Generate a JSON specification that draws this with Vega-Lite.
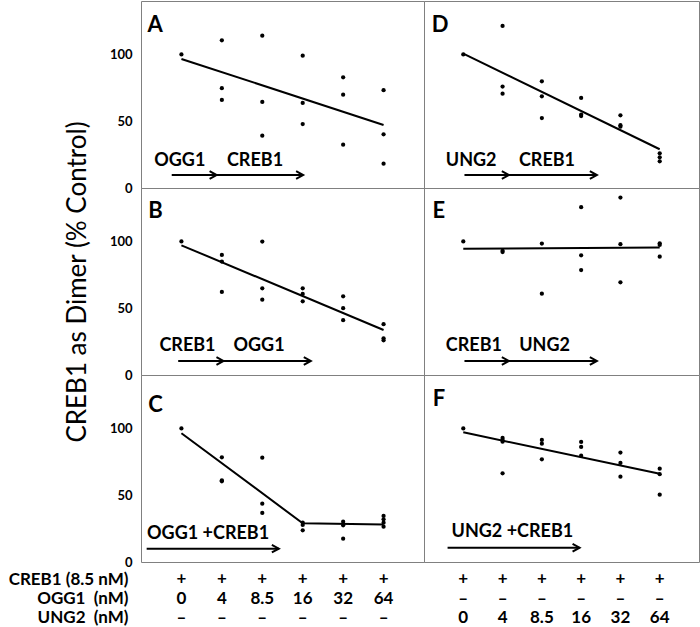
{
  "$schema": "https://vega.github.io/schema/vega-lite/v6.json",
  "padding": {"left": 8, "top": 0, "right": 0, "bottom": 0},
  "config": {"view": {"stroke": "#808080", "strokeWidth": 1}, "font": "Lato"},
  "columns": 2,
  "spacing": 0,
  "bounds": "flush",
  "datasets": {
    "pts": [
      {"p":"A","x":1,"y":100},{"p":"A","x":2,"y":110.6},{"p":"A","x":2,"y":74.7},{"p":"A","x":2,"y":65.9},{"p":"A","x":3,"y":114},{"p":"A","x":3,"y":64.4},{"p":"A","x":3,"y":39.2},{"p":"A","x":4,"y":99.1},{"p":"A","x":4,"y":63.7},{"p":"A","x":4,"y":47.9},{"p":"A","x":5,"y":82.9},{"p":"A","x":5,"y":69.9},{"p":"A","x":5,"y":32.4},{"p":"A","x":6,"y":73.2},{"p":"A","x":6,"y":40.2},{"p":"A","x":6,"y":18.2},
      {"p":"B","x":1,"y":100},{"p":"B","x":2,"y":89.9},{"p":"B","x":2,"y":84.9},{"p":"B","x":2,"y":62.2},{"p":"B","x":3,"y":99.9},{"p":"B","x":3,"y":64.9},{"p":"B","x":3,"y":56.4},{"p":"B","x":4,"y":64.9},{"p":"B","x":4,"y":60.7},{"p":"B","x":4,"y":55.2},{"p":"B","x":5,"y":58.9},{"p":"B","x":5,"y":50},{"p":"B","x":5,"y":41},{"p":"B","x":6,"y":38},{"p":"B","x":6,"y":27.5},{"p":"B","x":6,"y":26},
      {"p":"C","x":1,"y":100},{"p":"C","x":2,"y":78.4},{"p":"C","x":2,"y":61.2},{"p":"C","x":2,"y":60.4},{"p":"C","x":3,"y":78.1},{"p":"C","x":3,"y":43.7},{"p":"C","x":3,"y":36.7},{"p":"C","x":4,"y":29.4},{"p":"C","x":4,"y":27.7},{"p":"C","x":4,"y":23.7},{"p":"C","x":5,"y":30.2},{"p":"C","x":5,"y":27.5},{"p":"C","x":5,"y":17.5},{"p":"C","x":6,"y":34.5},{"p":"C","x":6,"y":32},{"p":"C","x":6,"y":29.4},{"p":"C","x":6,"y":26.4},
      {"p":"D","x":1,"y":100},{"p":"D","x":2,"y":121.3},{"p":"D","x":2,"y":75.9},{"p":"D","x":2,"y":70.6},{"p":"D","x":3,"y":79.9},{"p":"D","x":3,"y":68.6},{"p":"D","x":3,"y":52.4},{"p":"D","x":4,"y":67.4},{"p":"D","x":4,"y":55},{"p":"D","x":4,"y":53.9},{"p":"D","x":5,"y":54.4},{"p":"D","x":5,"y":47},{"p":"D","x":5,"y":45.9},{"p":"D","x":6,"y":26},{"p":"D","x":6,"y":23},{"p":"D","x":6,"y":20},
      {"p":"E","x":1,"y":100},{"p":"E","x":2,"y":93},{"p":"E","x":2,"y":92},{"p":"E","x":3,"y":98.4},{"p":"E","x":3,"y":60.9},{"p":"E","x":4,"y":125.6},{"p":"E","x":4,"y":89.6},{"p":"E","x":4,"y":78.6},{"p":"E","x":5,"y":132.8},{"p":"E","x":5,"y":97.9},{"p":"E","x":5,"y":69.4},{"p":"E","x":6,"y":98.6},{"p":"E","x":6,"y":97.4},{"p":"E","x":6,"y":88.6},
      {"p":"F","x":1,"y":100},{"p":"F","x":2,"y":92.9},{"p":"F","x":2,"y":91.4},{"p":"F","x":2,"y":90.1},{"p":"F","x":2,"y":66.4},{"p":"F","x":3,"y":91.4},{"p":"F","x":3,"y":88.6},{"p":"F","x":3,"y":76.9},{"p":"F","x":4,"y":89.9},{"p":"F","x":4,"y":86.1},{"p":"F","x":4,"y":79.6},{"p":"F","x":5,"y":81.9},{"p":"F","x":5,"y":74.2},{"p":"F","x":5,"y":63.9},{"p":"F","x":6,"y":69.9},{"p":"F","x":6,"y":65.7},{"p":"F","x":6,"y":50.4}
    ],
    "fit": [
      {"p":"A","x":1,"y":96.6},{"p":"A","x":6,"y":47.2},
      {"p":"B","x":1,"y":97.1},{"p":"B","x":6,"y":33.7},
      {"p":"C","x":1,"y":96.4},{"p":"C","x":4,"y":29},{"p":"C","x":6,"y":28},
      {"p":"D","x":1,"y":100.6},{"p":"D","x":6,"y":29},
      {"p":"E","x":1,"y":94.5},{"p":"E","x":6,"y":95.5},
      {"p":"F","x":1,"y":97.1},{"p":"F","x":6,"y":66.1}
    ],
    "arrows": [
      {"p":"A","x":0.76,"x2":1.87,"y":9.7},{"p":"A","x":1.87,"x2":4.01,"y":9.7},
      {"p":"B","x":0.92,"x2":2.04,"y":10.5},{"p":"B","x":2.04,"x2":4.2,"y":10.5},
      {"p":"C","x":0.14,"x2":3.41,"y":10},
      {"p":"D","x":1.03,"x2":2.16,"y":9.7},{"p":"D","x":2.16,"x2":4.4,"y":9.7},
      {"p":"E","x":1.03,"x2":2.16,"y":10.5},{"p":"E","x":2.16,"x2":4.4,"y":10.5},
      {"p":"F","x":0.6,"x2":3.96,"y":10.7}
    ],
    "labels": [
      {"p":"A","x":0.96,"y":20.2,"t":"OGG1"},{"p":"A","x":2.82,"y":20.2,"t":"CREB1"},
      {"p":"B","x":1.15,"y":21.7,"t":"CREB1"},{"p":"B","x":2.92,"y":21.7,"t":"OGG1"},
      {"p":"C","x":1.66,"y":21.2,"t":"OGG1 +CREB1"},
      {"p":"D","x":1.2,"y":20.2,"t":"UNG2"},{"p":"D","x":3.13,"y":20.2,"t":"CREB1"},
      {"p":"E","x":1.27,"y":21.7,"t":"CREB1"},{"p":"E","x":3.07,"y":21.7,"t":"UNG2"},
      {"p":"F","x":2.25,"y":22.2,"t":"UNG2 +CREB1"}
    ],
    "letters": [
      {"p":"A","x":0.35,"y":121.7,"t":"A"},
      {"p":"B","x":0.36,"y":122.8,"t":"B"},
      {"p":"C","x":0.36,"y":117.6,"t":"C"},
      {"p":"D","x":0.41,"y":121.7,"t":"D"},
      {"p":"E","x":0.38,"y":122.5,"t":"E"},
      {"p":"F","x":0.38,"y":122,"t":"F"}
    ],
    "tbl": [
      {"s":"L","r":"CREB1 (8.5 nM)","x":1,"t":"+"},{"s":"L","r":"CREB1 (8.5 nM)","x":2,"t":"+"},{"s":"L","r":"CREB1 (8.5 nM)","x":3,"t":"+"},{"s":"L","r":"CREB1 (8.5 nM)","x":4,"t":"+"},{"s":"L","r":"CREB1 (8.5 nM)","x":5,"t":"+"},{"s":"L","r":"CREB1 (8.5 nM)","x":6,"t":"+"},
      {"s":"L","r":"OGG1\u00a0 (nM)","x":1,"t":"0"},{"s":"L","r":"OGG1\u00a0 (nM)","x":2,"t":"4"},{"s":"L","r":"OGG1\u00a0 (nM)","x":3,"t":"8.5"},{"s":"L","r":"OGG1\u00a0 (nM)","x":4,"t":"16"},{"s":"L","r":"OGG1\u00a0 (nM)","x":5,"t":"32"},{"s":"L","r":"OGG1\u00a0 (nM)","x":6,"t":"64"},
      {"s":"L","r":"UNG2\u00a0 (nM)","x":1,"t":"–"},{"s":"L","r":"UNG2\u00a0 (nM)","x":2,"t":"–"},{"s":"L","r":"UNG2\u00a0 (nM)","x":3,"t":"–"},{"s":"L","r":"UNG2\u00a0 (nM)","x":4,"t":"–"},{"s":"L","r":"UNG2\u00a0 (nM)","x":5,"t":"–"},{"s":"L","r":"UNG2\u00a0 (nM)","x":6,"t":"–"},
      {"s":"R","r":"CREB1 (8.5 nM)","x":1,"t":"+"},{"s":"R","r":"CREB1 (8.5 nM)","x":2,"t":"+"},{"s":"R","r":"CREB1 (8.5 nM)","x":3,"t":"+"},{"s":"R","r":"CREB1 (8.5 nM)","x":4,"t":"+"},{"s":"R","r":"CREB1 (8.5 nM)","x":5,"t":"+"},{"s":"R","r":"CREB1 (8.5 nM)","x":6,"t":"+"},
      {"s":"R","r":"OGG1\u00a0 (nM)","x":1,"t":"–"},{"s":"R","r":"OGG1\u00a0 (nM)","x":2,"t":"–"},{"s":"R","r":"OGG1\u00a0 (nM)","x":3,"t":"–"},{"s":"R","r":"OGG1\u00a0 (nM)","x":4,"t":"–"},{"s":"R","r":"OGG1\u00a0 (nM)","x":5,"t":"–"},{"s":"R","r":"OGG1\u00a0 (nM)","x":6,"t":"–"},
      {"s":"R","r":"UNG2\u00a0 (nM)","x":1,"t":"0"},{"s":"R","r":"UNG2\u00a0 (nM)","x":2,"t":"4"},{"s":"R","r":"UNG2\u00a0 (nM)","x":3,"t":"8.5"},{"s":"R","r":"UNG2\u00a0 (nM)","x":4,"t":"16"},{"s":"R","r":"UNG2\u00a0 (nM)","x":5,"t":"32"},{"s":"R","r":"UNG2\u00a0 (nM)","x":6,"t":"64"}
    ]
  },
  "concat": [
    {
      "width": 283, "height": 187,
      "encoding": {
        "x": {"field": "x", "type": "quantitative", "scale": {"domain": [0, 7]}, "axis": null},
        "y": {"field": "y", "type": "quantitative", "scale": {"domain": [0, 140]}, "axis": {"values": [0, 50, 100], "ticks": false, "domain": false, "grid": false, "labelFont": "Lato", "labelFontWeight": "bold", "labelFontSize": 13, "labelColor": "black", "labelPadding": 9, "title": null}}
      },
      "layer": [
        {"data": {"name": "pts"}, "transform": [{"filter": "datum.p=='A'"}], "mark": {"type": "circle", "size": 18, "color": "black", "opacity": 1}},
        {"data": {"name": "fit"}, "transform": [{"filter": "datum.p=='A'"}], "mark": {"type": "line", "color": "black", "strokeWidth": 2}},
        {"data": {"name": "arrows"}, "transform": [{"filter": "datum.p=='A'"}], "mark": {"type": "rule", "color": "black", "strokeWidth": 2}, "encoding": {"x2": {"field": "x2"}}},
        {"data": {"name": "arrows"}, "transform": [{"filter": "datum.p=='A'"}], "mark": {"type": "point", "shape": "M-1,-0.55L0,0L-1,0.55", "filled": false, "color": "black", "strokeWidth": 2, "size": 196, "opacity": 1}, "encoding": {"x": {"field": "x2", "type": "quantitative", "scale": {"domain": [0, 7]}, "axis": null}}},
        {"data": {"name": "labels"}, "transform": [{"filter": "datum.p=='A'"}], "mark": {"type": "text", "font": "Lato", "fontWeight": "bold", "fontSize": 18, "color": "black"}, "encoding": {"text": {"field": "t"}}},
        {"data": {"name": "letters"}, "transform": [{"filter": "datum.p=='A'"}], "mark": {"type": "text", "font": "Lato", "fontWeight": "bold", "fontSize": 22, "color": "black"}, "encoding": {"text": {"field": "t"}}}
      ]
    },
    {
      "width": 275, "height": 187,
      "encoding": {
        "x": {"field": "x", "type": "quantitative", "scale": {"domain": [0, 7]}, "axis": null},
        "y": {"field": "y", "type": "quantitative", "scale": {"domain": [0, 140]}, "axis": null}
      },
      "layer": [
        {"data": {"name": "pts"}, "transform": [{"filter": "datum.p=='D'"}], "mark": {"type": "circle", "size": 18, "color": "black", "opacity": 1}},
        {"data": {"name": "fit"}, "transform": [{"filter": "datum.p=='D'"}], "mark": {"type": "line", "color": "black", "strokeWidth": 2}},
        {"data": {"name": "arrows"}, "transform": [{"filter": "datum.p=='D'"}], "mark": {"type": "rule", "color": "black", "strokeWidth": 2}, "encoding": {"x2": {"field": "x2"}}},
        {"data": {"name": "arrows"}, "transform": [{"filter": "datum.p=='D'"}], "mark": {"type": "point", "shape": "M-1,-0.55L0,0L-1,0.55", "filled": false, "color": "black", "strokeWidth": 2, "size": 196, "opacity": 1}, "encoding": {"x": {"field": "x2", "type": "quantitative", "scale": {"domain": [0, 7]}, "axis": null}}},
        {"data": {"name": "labels"}, "transform": [{"filter": "datum.p=='D'"}], "mark": {"type": "text", "font": "Lato", "fontWeight": "bold", "fontSize": 18, "color": "black"}, "encoding": {"text": {"field": "t"}}},
        {"data": {"name": "letters"}, "transform": [{"filter": "datum.p=='D'"}], "mark": {"type": "text", "font": "Lato", "fontWeight": "bold", "fontSize": 22, "color": "black"}, "encoding": {"text": {"field": "t"}}}
      ]
    },
    {
      "width": 283, "height": 187,
      "encoding": {
        "x": {"field": "x", "type": "quantitative", "scale": {"domain": [0, 7]}, "axis": null},
        "y": {"field": "y", "type": "quantitative", "scale": {"domain": [0, 140]}, "axis": {"values": [0, 50, 100], "ticks": false, "domain": false, "grid": false, "labelFont": "Lato", "labelFontWeight": "bold", "labelFontSize": 13, "labelColor": "black", "labelPadding": 9, "title": "CREB1 as Dimer (% Control)", "titleFont": "Lato", "titleFontSize": 26, "titleFontWeight": "normal", "titleColor": "black", "titlePadding": 19}}
      },
      "layer": [
        {"data": {"name": "pts"}, "transform": [{"filter": "datum.p=='B'"}], "mark": {"type": "circle", "size": 18, "color": "black", "opacity": 1}},
        {"data": {"name": "fit"}, "transform": [{"filter": "datum.p=='B'"}], "mark": {"type": "line", "color": "black", "strokeWidth": 2}},
        {"data": {"name": "arrows"}, "transform": [{"filter": "datum.p=='B'"}], "mark": {"type": "rule", "color": "black", "strokeWidth": 2}, "encoding": {"x2": {"field": "x2"}}},
        {"data": {"name": "arrows"}, "transform": [{"filter": "datum.p=='B'"}], "mark": {"type": "point", "shape": "M-1,-0.55L0,0L-1,0.55", "filled": false, "color": "black", "strokeWidth": 2, "size": 196, "opacity": 1}, "encoding": {"x": {"field": "x2", "type": "quantitative", "scale": {"domain": [0, 7]}, "axis": null}}},
        {"data": {"name": "labels"}, "transform": [{"filter": "datum.p=='B'"}], "mark": {"type": "text", "font": "Lato", "fontWeight": "bold", "fontSize": 18, "color": "black"}, "encoding": {"text": {"field": "t"}}},
        {"data": {"name": "letters"}, "transform": [{"filter": "datum.p=='B'"}], "mark": {"type": "text", "font": "Lato", "fontWeight": "bold", "fontSize": 22, "color": "black"}, "encoding": {"text": {"field": "t"}}}
      ]
    },
    {
      "width": 275, "height": 187,
      "encoding": {
        "x": {"field": "x", "type": "quantitative", "scale": {"domain": [0, 7]}, "axis": null},
        "y": {"field": "y", "type": "quantitative", "scale": {"domain": [0, 140]}, "axis": null}
      },
      "layer": [
        {"data": {"name": "pts"}, "transform": [{"filter": "datum.p=='E'"}], "mark": {"type": "circle", "size": 18, "color": "black", "opacity": 1}},
        {"data": {"name": "fit"}, "transform": [{"filter": "datum.p=='E'"}], "mark": {"type": "line", "color": "black", "strokeWidth": 2}},
        {"data": {"name": "arrows"}, "transform": [{"filter": "datum.p=='E'"}], "mark": {"type": "rule", "color": "black", "strokeWidth": 2}, "encoding": {"x2": {"field": "x2"}}},
        {"data": {"name": "arrows"}, "transform": [{"filter": "datum.p=='E'"}], "mark": {"type": "point", "shape": "M-1,-0.55L0,0L-1,0.55", "filled": false, "color": "black", "strokeWidth": 2, "size": 196, "opacity": 1}, "encoding": {"x": {"field": "x2", "type": "quantitative", "scale": {"domain": [0, 7]}, "axis": null}}},
        {"data": {"name": "labels"}, "transform": [{"filter": "datum.p=='E'"}], "mark": {"type": "text", "font": "Lato", "fontWeight": "bold", "fontSize": 18, "color": "black"}, "encoding": {"text": {"field": "t"}}},
        {"data": {"name": "letters"}, "transform": [{"filter": "datum.p=='E'"}], "mark": {"type": "text", "font": "Lato", "fontWeight": "bold", "fontSize": 22, "color": "black"}, "encoding": {"text": {"field": "t"}}}
      ]
    },
    {
      "width": 283, "height": 187,
      "encoding": {
        "x": {"field": "x", "type": "quantitative", "scale": {"domain": [0, 7]}, "axis": null},
        "y": {"field": "y", "type": "quantitative", "scale": {"domain": [0, 140]}, "axis": {"values": [0, 50, 100], "ticks": false, "domain": false, "grid": false, "labelFont": "Lato", "labelFontWeight": "bold", "labelFontSize": 13, "labelColor": "black", "labelPadding": 9, "title": null}}
      },
      "layer": [
        {"data": {"name": "pts"}, "transform": [{"filter": "datum.p=='C'"}], "mark": {"type": "circle", "size": 18, "color": "black", "opacity": 1}},
        {"data": {"name": "fit"}, "transform": [{"filter": "datum.p=='C'"}], "mark": {"type": "line", "color": "black", "strokeWidth": 2}},
        {"data": {"name": "arrows"}, "transform": [{"filter": "datum.p=='C'"}], "mark": {"type": "rule", "color": "black", "strokeWidth": 2}, "encoding": {"x2": {"field": "x2"}}},
        {"data": {"name": "arrows"}, "transform": [{"filter": "datum.p=='C'"}], "mark": {"type": "point", "shape": "M-1,-0.55L0,0L-1,0.55", "filled": false, "color": "black", "strokeWidth": 2, "size": 196, "opacity": 1}, "encoding": {"x": {"field": "x2", "type": "quantitative", "scale": {"domain": [0, 7]}, "axis": null}}},
        {"data": {"name": "labels"}, "transform": [{"filter": "datum.p=='C'"}], "mark": {"type": "text", "font": "Lato", "fontWeight": "bold", "fontSize": 18, "color": "black"}, "encoding": {"text": {"field": "t"}}},
        {"data": {"name": "letters"}, "transform": [{"filter": "datum.p=='C'"}], "mark": {"type": "text", "font": "Lato", "fontWeight": "bold", "fontSize": 22, "color": "black"}, "encoding": {"text": {"field": "t"}}}
      ]
    },
    {
      "width": 275, "height": 187,
      "encoding": {
        "x": {"field": "x", "type": "quantitative", "scale": {"domain": [0, 7]}, "axis": null},
        "y": {"field": "y", "type": "quantitative", "scale": {"domain": [0, 140]}, "axis": null}
      },
      "layer": [
        {"data": {"name": "pts"}, "transform": [{"filter": "datum.p=='F'"}], "mark": {"type": "circle", "size": 18, "color": "black", "opacity": 1}},
        {"data": {"name": "fit"}, "transform": [{"filter": "datum.p=='F'"}], "mark": {"type": "line", "color": "black", "strokeWidth": 2}},
        {"data": {"name": "arrows"}, "transform": [{"filter": "datum.p=='F'"}], "mark": {"type": "rule", "color": "black", "strokeWidth": 2}, "encoding": {"x2": {"field": "x2"}}},
        {"data": {"name": "arrows"}, "transform": [{"filter": "datum.p=='F'"}], "mark": {"type": "point", "shape": "M-1,-0.55L0,0L-1,0.55", "filled": false, "color": "black", "strokeWidth": 2, "size": 196, "opacity": 1}, "encoding": {"x": {"field": "x2", "type": "quantitative", "scale": {"domain": [0, 7]}, "axis": null}}},
        {"data": {"name": "labels"}, "transform": [{"filter": "datum.p=='F'"}], "mark": {"type": "text", "font": "Lato", "fontWeight": "bold", "fontSize": 18, "color": "black"}, "encoding": {"text": {"field": "t"}}},
        {"data": {"name": "letters"}, "transform": [{"filter": "datum.p=='F'"}], "mark": {"type": "text", "font": "Lato", "fontWeight": "bold", "fontSize": 22, "color": "black"}, "encoding": {"text": {"field": "t"}}}
      ]
    },
    {
      "width": 283, "height": 64,
      "view": {"stroke": null},
      "data": {"name": "tbl"},
      "transform": [{"filter": "datum.s=='L'"}],
      "mark": {"type": "text", "font": "Lato", "fontWeight": "bold", "fontSize": 17, "color": "black"},
      "encoding": {
        "x": {"field": "x", "type": "quantitative", "scale": {"domain": [0, 7]}, "axis": null},
        "y": {"field": "r", "type": "nominal", "scale": {"type": "point", "domain": ["CREB1 (8.5 nM)", "OGG1\u00a0 (nM)", "UNG2\u00a0 (nM)"], "padding": 0.658, "align": 0.68}, "axis": {"title": null, "ticks": false, "domain": false, "labelFont": "Lato", "labelFontWeight": "bold", "labelFontSize": 17, "labelColor": "black", "labelPadding": 13}},
        "text": {"field": "t"}
      }
    },
    {
      "width": 275, "height": 64,
      "view": {"stroke": null},
      "data": {"name": "tbl"},
      "transform": [{"filter": "datum.s=='R'"}],
      "mark": {"type": "text", "font": "Lato", "fontWeight": "bold", "fontSize": 17, "color": "black"},
      "encoding": {
        "x": {"field": "x", "type": "quantitative", "scale": {"domain": [0, 7]}, "axis": null},
        "y": {"field": "r", "type": "nominal", "scale": {"type": "point", "domain": ["CREB1 (8.5 nM)", "OGG1\u00a0 (nM)", "UNG2\u00a0 (nM)"], "padding": 0.658, "align": 0.68}, "axis": null},
        "text": {"field": "t"}
      }
    }
  ]
}
